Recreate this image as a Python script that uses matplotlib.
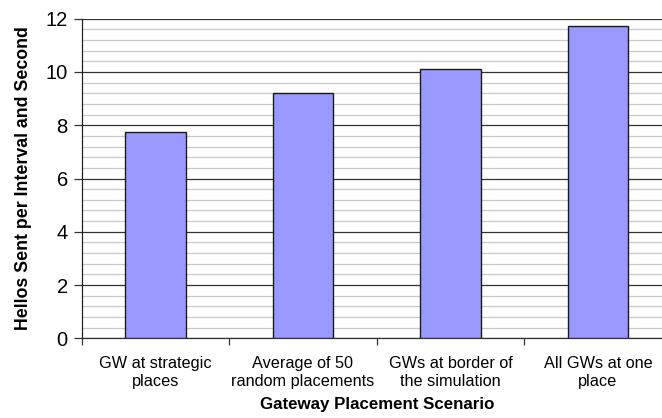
import matplotlib
matplotlib.use("Agg")
import matplotlib.pyplot as plt
from matplotlib.ticker import MultipleLocator

categories = [
    "GW at strategic\nplaces",
    "Average of 50\nrandom placements",
    "GWs at border of\nthe simulation",
    "All GWs at one\nplace",
]
hellos_per_second = [7.75, 9.2, 10.11, 11.73]
y_ticks = [0, 2, 4, 6, 8, 10, 12]

plt.rcParams["font.family"] = ["Liberation Sans", "DejaVu Sans"]

W, H = 662, 418
fig = plt.figure(figsize=(W / 100, H / 100), dpi=100)
# plot area runs slightly past the right edge of the canvas
left, right, bottom, top = 81.7, 671.7, 338.3, 18.7
ax = fig.add_axes([left / W, 1 - bottom / H, (right - left) / W, (bottom - top) / H])

x = list(range(len(categories)))
ax.bar(x, hellos_per_second, width=0.41, color="#9999FF",
       edgecolor="#1a1a1a", linewidth=1.0, zorder=3)

ax.set_xlim(-0.5, len(categories) - 0.5)
ax.set_ylim(0, 12)
ax.set_yticks(y_ticks)
ax.yaxis.set_minor_locator(MultipleLocator(0.4))

ax.grid(which="minor", axis="y", color="#c8c8c8", linewidth=0.9, zorder=0)
ax.grid(which="major", axis="y", color="#333333", linewidth=0.9, zorder=1)

# category labels centred under bars, ticks at category boundaries
ax.set_xticks(x)
ax.set_xticklabels(categories, fontsize=11.7, linespacing=1.2)
ax.tick_params(axis="x", which="major", length=0, pad=13)
ax.set_xticks([i - 0.5 for i in range(len(categories) + 1)], minor=True)
ax.tick_params(axis="x", which="minor", length=5, width=0.9, color="#333333")
ax.tick_params(axis="y", which="major", length=6, width=0.9, labelsize=14.5,
               pad=4, color="#333333")
ax.tick_params(axis="y", which="minor", length=0)

for s in ("top", "right"):
    ax.spines[s].set_visible(False)
ax.spines["left"].set_color("#222222")
ax.spines["bottom"].set_color("#333333")
ax.spines["left"].set_linewidth(0.9)
ax.spines["bottom"].set_linewidth(0.9)

ax.set_xlabel("Gateway Placement Scenario", fontsize=12.2, fontweight="bold", labelpad=6)
ax.set_ylabel("Hellos Sent per Interval and Second", fontsize=12.8,
              fontweight="bold", labelpad=10)

fig.savefig("out.png", dpi=100)
